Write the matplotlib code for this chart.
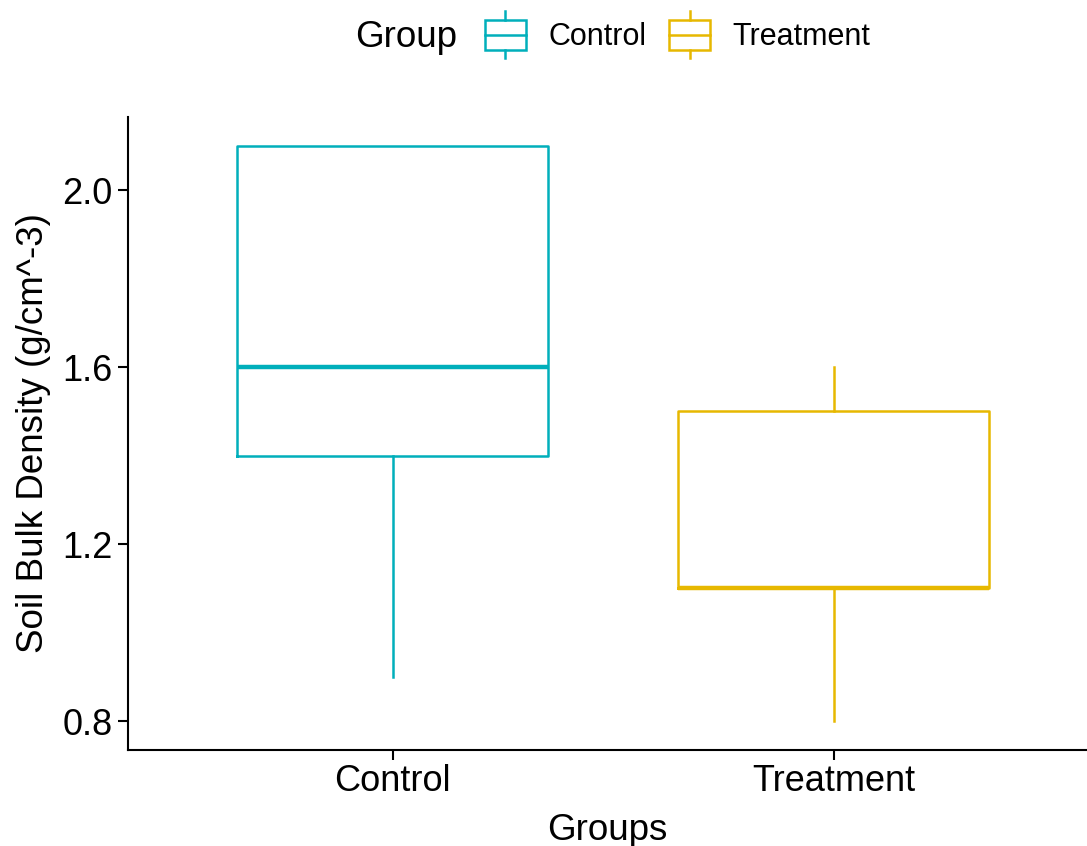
import matplotlib
matplotlib.use("Agg")
import matplotlib.pyplot as plt
from matplotlib.legend_handler import HandlerBase
from matplotlib.patches import Rectangle
from matplotlib.lines import Line2D

plt.rcParams['font.family'] = ['Liberation Sans', 'DejaVu Sans']

groups = ['Control', 'Treatment']
colors = ['#00AFBB', '#E7B800']
whislo = [0.9, 0.8]
q1 = [1.4, 1.1]
med = [1.6, 1.1]
q3 = [2.1, 1.5]
whishi = [2.1, 1.6]
yticks = [0.8, 1.2, 1.6, 2.0]

fig = plt.figure(figsize=(10.87, 8.46), dpi=100)
ax = fig.add_axes([0.1178, 0.1135, 0.8822, 0.7482])

stats = []
for g, lo, a, m, b, hi in zip(groups, whislo, q1, med, q3, whishi):
    stats.append(dict(label=g, whislo=lo, q1=a, med=m, q3=b, whishi=hi, fliers=[]))

bp = ax.bxp(stats, positions=[1, 2], widths=0.705, showcaps=False, patch_artist=False)
for i, c in enumerate(colors):
    bp['boxes'][i].set(color=c, linewidth=1.8)
    bp['medians'][i].set(color=c, linewidth=3.2, solid_capstyle='butt')
    for w in bp['whiskers'][2 * i:2 * i + 2]:
        w.set(color=c, linewidth=1.8)

ax.set_xlim(0.4, 2.574)
ax.set_ylim(0.735, 2.165)
ax.set_yticks(yticks)
ax.set_yticklabels([f'{v:.1f}' for v in yticks])
ax.set_xticks([1, 2])
ax.set_xticklabels(groups)
ax.tick_params(labelsize=26, length=7, width=1.5, colors='black', pad=4)
ax.tick_params(axis='x', pad=3)
ax.spines['top'].set_visible(False)
ax.spines['right'].set_visible(False)
for s in ['left', 'bottom']:
    ax.spines[s].set_linewidth(1.5)
ax.set_xlabel('Groups', fontsize=26.5, labelpad=10)
ax.set_ylabel('Soil Bulk Density (g/cm^-3)', fontsize=26.5, labelpad=8)


class BoxHandler(HandlerBase):
    def create_artists(self, legend, orig_handle, xdescent, ydescent,
                       width, height, fontsize, trans):
        c = orig_handle.get_color()
        x0 = xdescent
        w = width
        h = height * 1.4
        y0 = -ydescent + (height - h) / 2
        ext = height * 0.38
        rect = Rectangle((x0, y0), w, h, fill=False, edgecolor=c, lw=1.8, transform=trans)
        mid = Line2D([x0, x0 + w], [y0 + h / 2] * 2, color=c, lw=1.8, transform=trans)
        top = Line2D([x0 + w / 2] * 2, [y0 + h, y0 + h + ext], color=c, lw=1.8, transform=trans)
        bot = Line2D([x0 + w / 2] * 2, [y0, y0 - ext], color=c, lw=1.8, transform=trans)
        return [rect, mid, top, bot]


handles = [Line2D([], [], color=c) for c in colors]
fig.text(0.3266, 0.956, 'Group', fontsize=26.5, ha='left', va='center')
fig.legend(handles, groups, handler_map={Line2D: BoxHandler()}, ncol=2,
           loc='center left', bbox_to_anchor=(0.446, 0.956), frameon=False,
           fontsize=22, handlelength=1.35, handleheight=0.7, handletextpad=0.72,
           columnspacing=0.75, borderaxespad=0, borderpad=0)

fig.savefig('out.png', dpi=100)
